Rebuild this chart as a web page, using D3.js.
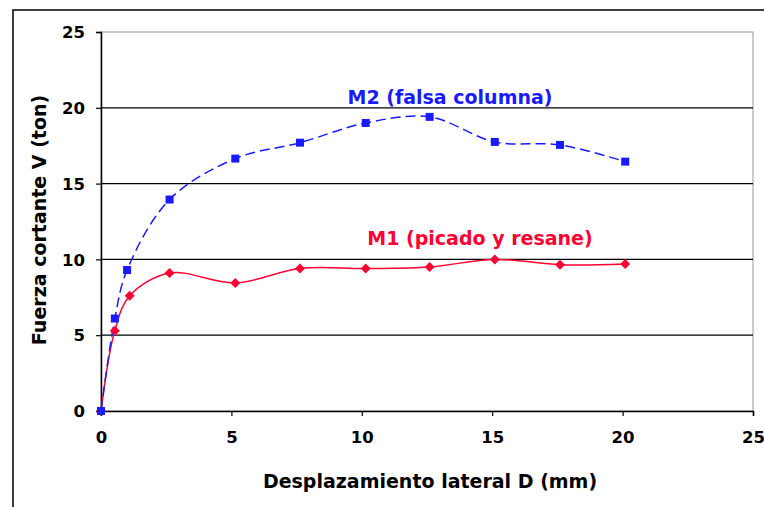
<!DOCTYPE html>
<html><head><meta charset="utf-8">
<script src="https://cdn.jsdelivr.net/npm/d3@7"></script>
<style>body{margin:0;background:#fff}svg{display:block}text{font-family:"DejaVu Sans",Verdana,sans-serif;font-weight:bold}</style>
</head><body>
<svg id="c" width="764" height="507"></svg>
<script>
const xTicks = [0, 5, 10, 15, 20, 25];
const yTicks = [0, 5, 10, 15, 20, 25];
const m2X = [0, 0.53, 1.0, 2.63, 5.15, 7.63, 10.15, 12.6, 15.1, 17.6, 20.1];
const m2Y = [0, 6.1, 9.3, 13.95, 16.65, 17.7, 19.0, 19.4, 17.75, 17.55, 16.45];
const m1X = [0, 0.53, 1.1, 2.63, 5.15, 7.63, 10.15, 12.6, 15.1, 17.6, 20.1];
const m1Y = [0, 5.3, 7.6, 9.1, 8.45, 9.4, 9.4, 9.5, 10.0, 9.65, 9.7];
const m2Label = "M2 (falsa columna)";
const m1Label = "M1 (picado y resane)";
const xTitle = "Desplazamiento lateral D (mm)";
const yTitle = "Fuerza cortante V (ton)";

const FONT = '"DejaVu Sans",Verdana,sans-serif';
const svg = d3.select("#c");
const L = 101, R = 753, T = 32, B = 411;
const x = d3.scaleLinear().domain([0, 25]).range([L, R]);
const y = d3.scaleLinear().domain([0, 25]).range([B, T]);

// outer frame
svg.append("rect").attr("x", 13).attr("y", 10).attr("width", 770).attr("height", 520)
  .attr("fill", "none").attr("stroke", "#000").attr("stroke-width", 1.5);

// plot area border (gray)
svg.append("rect").attr("x", L).attr("y", T).attr("width", R - L).attr("height", B - T)
  .attr("fill", "none").attr("stroke", "#999").attr("stroke-width", 1);

// gridlines
svg.append("g").selectAll("line").data(yTicks.filter(d => d > 0 && d < 25)).join("line")
  .attr("x1", L).attr("x2", R).attr("y1", d => y(d)).attr("y2", d => y(d))
  .attr("stroke", "#000").attr("stroke-width", 1.3);

// axes
const xAxis = svg.append("g").attr("transform", `translate(0,${B})`)
  .call(d3.axisBottom(x).tickValues(xTicks).tickSize(5).tickPadding(15));
const yAxis = svg.append("g").attr("transform", `translate(${L},0)`)
  .call(d3.axisLeft(y).tickValues(yTicks).tickSize(5).tickPadding(11));
[xAxis, yAxis].forEach(a => {
  a.select(".domain").attr("stroke", "#000").attr("stroke-width", 1.5);
  a.selectAll(".tick line").attr("stroke", "#000").attr("stroke-width", 1.2);
  a.selectAll(".tick text").attr("font-size", 16.5).attr("font-family", FONT)
    .attr("font-weight", "bold").attr("fill", "#000");
});
yAxis.selectAll(".tick text").attr("dy", "0.35em");

// titles
svg.append("text").attr("x", 430).attr("y", 488).attr("text-anchor", "middle")
  .attr("font-size", 19).attr("fill", "#000").text(xTitle);
svg.append("text").attr("transform", "translate(46,220) rotate(-90)").attr("text-anchor", "middle")
  .attr("font-size", 19).attr("fill", "#000").text(yTitle);

const line = d3.line().x(d => x(d[0])).y(d => y(d[1])).curve(d3.curveCatmullRom.alpha(0.5));
const m2 = m2X.map((v, i) => [v, m2Y[i]]);
const m1 = m1X.map((v, i) => [v, m1Y[i]]);

svg.append("path").datum(m1).attr("d", line).attr("fill", "none").attr("stroke", "#ff0033").attr("stroke-width", 1.5);
svg.append("path").datum(m2).attr("d", line).attr("fill", "none").attr("stroke", "#1a1aff")
  .attr("stroke-width", 1.5).attr("stroke-dasharray", "10,5");

// markers
svg.append("g").selectAll("path").data(m1).join("path")
  .attr("transform", d => `translate(${x(d[0])},${y(d[1])})`)
  .attr("d", "M0,-5L5,0L0,5L-5,0Z").attr("fill", "#ff0033");
svg.append("g").selectAll("rect").data(m2).join("rect")
  .attr("x", d => x(d[0]) - 4).attr("y", d => y(d[1]) - 4).attr("width", 8).attr("height", 8)
  .attr("fill", "#1a1aff");

// series labels
svg.append("text").attr("x", 450).attr("y", 104).attr("text-anchor", "middle")
  .attr("font-size", 19).attr("fill", "#1a1aff").text(m2Label);
svg.append("text").attr("x", 480).attr("y", 245).attr("text-anchor", "middle")
  .attr("font-size", 19).attr("fill", "#ff0033").text(m1Label);
</script>
</body></html>
